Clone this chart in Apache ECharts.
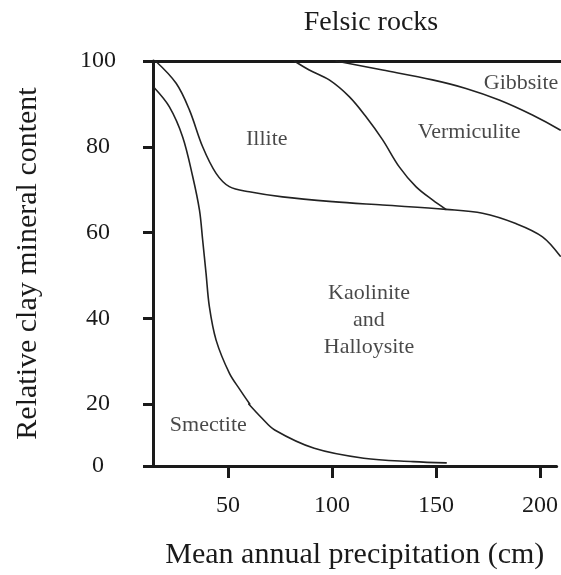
<!DOCTYPE html>
<html>
<head>
<meta charset="utf-8">
<script src="https://cdn.jsdelivr.net/npm/echarts@6/dist/echarts.min.js"></script>
<style>
html,body{margin:0;padding:0;background:#fff;}
#chart{width:561px;height:575px;}
</style>
</head>
<body>
<div id="chart"></div>
<script>
// ---- Data (x: mean annual precipitation, cm; y: relative clay mineral content) ----
// The original figure's y axis is drawn piecewise: 0–20 is compressed, 20–100 evenly spaced.
const smectiteX = [14.7, 21.8, 28.1, 32.9, 36.1, 37.6, 39.2, 40.8, 44.0, 50.3, 55.4, 60.0, 66.4, 72.5, 91.5, 115.3, 139.0, 154.9];
const smectiteY = [93.7, 89.3, 82.3, 73.0, 65.2, 58.3, 50.6, 42.7, 34.9, 27.2, 23.3, 20.0, 15.4, 11.6, 5.7, 2.5, 1.4, 1.0];

const kaoliniteTopX = [15.2, 25.0, 31.3, 37.6, 44.0, 50.3, 59.8, 75.6, 99.4, 123.2, 153.3, 170.7, 186.5, 199.2, 207.6];
const kaoliniteTopY = [100, 94.8, 88.6, 80.0, 73.8, 70.7, 69.5, 68.3, 67.2, 66.4, 65.4, 64.5, 62.1, 59.0, 54.5];

const vermiculiteX = [81.2, 88.3, 97.8, 107.3, 115.3, 123.2, 131.1, 139.0, 146.9, 153.3];
const vermiculiteY = [100, 97.9, 95.6, 91.7, 87.0, 81.6, 75.3, 70.7, 67.6, 65.4];

const gibbsiteX = [101.0, 123.2, 146.9, 162.8, 178.6, 194.4, 207.6];
const gibbsiteY = [100, 97.9, 95.6, 93.6, 90.9, 87.4, 83.9];

const regionNames = ['Illite', 'Vermiculite', 'Gibbsite', 'Kaolinite\nand\nHalloysite', 'Smectite'];
const regionX = [68.1, 164.3, 189.0, 116.7, 40.6];
const regionY = [81.8, 83.5, 94.9, 39.6, 13.2];

const xTicks = [50, 100, 150, 200];
const yTicksUpper = [20, 40, 60, 80, 100];
const yTicksLower = [0];
const xMin = 14, xMax = 208;
const yBreak = 20; // boundary between the compressed lower part and the upper part of the y axis

const titleText = 'Felsic rocks';
const xName = 'Mean annual precipitation (cm)';
const yName = 'Relative clay mineral content';

// ---- Build ----
const zip = (xs, ys) => xs.map((x, i) => [x, ys[i]]);
const upperPart = (pts) => pts.filter(p => p[1] >= yBreak);
const lowerPart = (pts) => pts.filter(p => p[1] <= yBreak);

const FONT = '"Liberation Serif", "Times New Roman", serif';
const INK = '#1a1a1a';

const lineSeries = (data, gi) => ({
  type: 'line',
  xAxisIndex: gi,
  yAxisIndex: gi,
  data: data,
  smooth: 0.35,
  clip: false,
  showSymbol: false,
  symbol: 'none',
  lineStyle: { color: '#222', width: 1.6, cap: 'round' },
  silent: true,
  z: 3
});

const labelSeries = (items, gi) => ({
  type: 'scatter',
  xAxisIndex: gi,
  yAxisIndex: gi,
  symbolSize: 1,
  itemStyle: { color: 'rgba(0,0,0,0)' },
  silent: true,
  z: 4,
  label: {
    show: true,
    position: 'inside',
    formatter: (p) => p.name,
    fontFamily: FONT,
    fontSize: 22,
    lineHeight: 27,
    color: INK,
    align: 'center',
    verticalAlign: 'middle'
  },
  data: items
});

const smectite = zip(smectiteX, smectiteY);
const regions = regionNames.map((n, i) => ({ name: n, value: [regionX[i], regionY[i]] }));

const axisLineStyle = { show: true, lineStyle: { color: INK, width: 3 } };
const tickLabel = { fontFamily: FONT, fontSize: 24, color: INK };

const chart = echarts.init(document.getElementById('chart'), null, { renderer: 'canvas' });
chart.setOption({
  animation: false,
  backgroundColor: '#fff',
  title: {
    text: titleText,
    left: 366,
    top: 4,
    textAlign: 'center',
    textStyle: { fontFamily: FONT, fontSize: 28, fontWeight: 'normal', color: INK }
  },
  grid: [
    { left: 153, right: 0, top: 61, height: 343 },   // upper part: 20–100
    { left: 153, right: 0, top: 404, bottom: 109 },  // lower part: 0–20
    { left: 153, right: 0, top: 61, bottom: 109 }    // whole frame (axis title)
  ],
  xAxis: [{
    gridIndex: 0, type: 'value', position: 'top', min: xMin, max: xMax,
    axisLine: axisLineStyle, axisTick: { show: false }, axisLabel: { show: false }, splitLine: { show: false }
  }, {
    gridIndex: 1, type: 'value', min: xMin, max: xMax,
    name: xName, nameLocation: 'middle', nameGap: 74,
    nameTextStyle: { fontFamily: FONT, fontSize: 30, color: INK },
    axisLine: axisLineStyle,
    axisTick: { show: true, customValues: xTicks, length: 12, lineStyle: { color: INK, width: 3 } },
    axisLabel: Object.assign({ customValues: xTicks, margin: 28 }, tickLabel),
    splitLine: { show: false }
  }, {
    gridIndex: 2, type: 'value', min: xMin, max: xMax, show: false
  }],
  yAxis: [{
    gridIndex: 0, type: 'value', min: 20, max: 100, interval: 20,
    axisLine: axisLineStyle,
    axisTick: { show: true, customValues: yTicksUpper, length: 10, lineStyle: { color: INK, width: 3 } },
    axisLabel: Object.assign({ customValues: yTicksUpper, margin: 55, align: 'center' }, tickLabel),
    splitLine: { show: false }
  }, {
    gridIndex: 1, type: 'value', min: 0, max: yBreak, interval: 20,
    axisLine: axisLineStyle,
    axisTick: { show: true, customValues: yTicksLower, length: 10, lineStyle: { color: INK, width: 3 } },
    axisLabel: Object.assign({ customValues: yTicksLower, margin: 55, align: 'center' }, tickLabel),
    splitLine: { show: false }
  }, {
    gridIndex: 2, type: 'value', min: 0, max: 100,
    name: yName, nameLocation: 'middle', nameGap: 110,
    nameTextStyle: { fontFamily: FONT, fontSize: 30, color: INK },
    axisLine: { show: false }, axisTick: { show: false }, axisLabel: { show: false }, splitLine: { show: false }
  }],
  series: [
    lineSeries(upperPart(smectite), 0),
    lineSeries(lowerPart(smectite), 1),
    lineSeries(zip(kaoliniteTopX, kaoliniteTopY), 0),
    lineSeries(zip(vermiculiteX, vermiculiteY), 0),
    lineSeries(zip(gibbsiteX, gibbsiteY), 0),
    labelSeries(regions.filter(r => r.value[1] >= yBreak), 0),
    labelSeries(regions.filter(r => r.value[1] < yBreak), 1)
  ]
});
</script>
</body>
</html>
